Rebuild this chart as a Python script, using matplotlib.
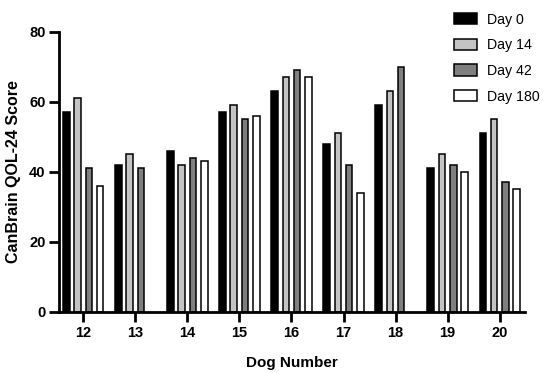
import matplotlib.pyplot as plt
import numpy as np

plt.rcParams['font.family'] = ['Liberation Sans', 'DejaVu Sans']

dogs = ['12', '13', '14', '15', '16', '17', '18', '19', '20']
series = ['Day 0', 'Day 14', 'Day 42', 'Day 180']
day0 = [57, 42, 46, 57, 63, 48, 59, 41, 51]
day14 = [61, 45, 42, 59, 67, 51, 63, 45, 55]
day42 = [41, 41, 44, 55, 69, 42, 70, 42, 37]
day180 = [36, np.nan, 43, 56, 67, 34, np.nan, 40, 35]
colors = ['#000000', '#c4c4c4', '#7f7f7f', '#ffffff']

fig = plt.figure(figsize=(5.5, 3.73), dpi=100)
ax = fig.add_axes([0.108, 0.164, 0.846, 0.751])

x = np.arange(len(dogs))
pitch = 0.217
width = 0.125
for i, (vals, name, c) in enumerate(zip([day0, day14, day42, day180], series, colors)):
    ax.bar(x + (i - 1.5) * pitch, vals, width, color=c, edgecolor='black',
           linewidth=1.1, label=name)

ax.set_xlim(-0.457, 8.48)
ax.set_ylim(0, 80)
ax.set_yticks([0, 20, 40, 60, 80])
ax.set_xticks(x)
ax.set_xticklabels(dogs)
for s in ['top', 'right']:
    ax.spines[s].set_visible(False)
for s in ['left', 'bottom']:
    ax.spines[s].set_linewidth(2)
ax.tick_params(width=2, length=7, labelsize=10.5, pad=3)
for lab in ax.get_xticklabels() + ax.get_yticklabels():
    lab.set_fontweight('bold')

ax.set_xlabel('Dog Number', fontsize=11, fontweight='bold', labelpad=12)
ax.set_ylabel('CanBrain QOL-24 Score', fontsize=11.5, fontweight='bold', labelpad=6)

fig.legend(loc='upper left', bbox_to_anchor=(0.802, 1.0), frameon=False,
           fontsize=10.2, handlelength=1.6, handleheight=0.85, labelspacing=0.82,
           handletextpad=0.75)

fig.savefig('out.png', dpi=100)
